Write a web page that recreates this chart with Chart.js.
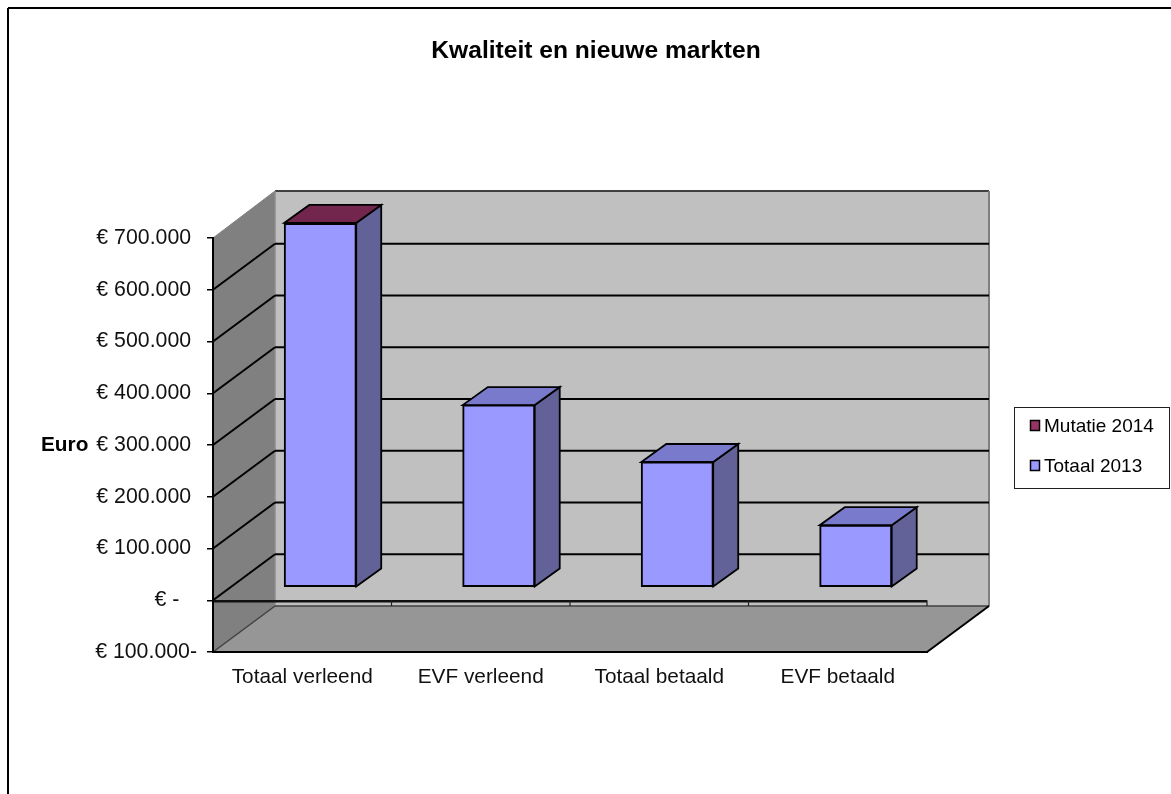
<!DOCTYPE html>
<html>
<head>
<meta charset="utf-8">
<title>Kwaliteit en nieuwe markten</title>
<script src="https://cdn.jsdelivr.net/npm/chart.js@4/dist/chart.umd.min.js"></script>
<style>
  html, body { margin: 0; padding: 0; background: #fff; overflow: hidden; }
  #wrap { width: 1171px; height: 794px; }
</style>
</head>
<body>
<div id="wrap"><canvas id="chart" width="1171" height="794"></canvas></div>
<script>
// --- data ---
const categories = ['Totaal verleend', 'EVF verleend', 'Totaal betaald', 'EVF betaald'];
const totaal2013 = [703000, 352000, 242000, 120000];
const mutatie2014 = [1000, 0, 0, 0];
const tickValues = [700000, 600000, 500000, 400000, 300000, 200000, 100000, 0, -100000];
const tickLabels = ['€ 700.000 ', '€ 600.000 ', '€ 500.000 ', '€ 400.000 ', '€ 300.000 ', '€ 200.000 ', '€ 100.000 ', '€ -   ', '€ 100.000-'];

const FONT = '"Liberation Sans", Arial, sans-serif';

// 3D look: how far the back wall and the bars sit behind the front plane
const WALL_DX = 62, WALL_DY = 46;
const BAR_SHIFT_X = 18, BAR_SHIFT_Y = 13;
const BAR_DX = 25, BAR_DY = 18;

function poly(ctx, pts, fill, stroke, width) {
    ctx.beginPath();
    pts.forEach((p, i) => i ? ctx.lineTo(p[0], p[1]) : ctx.moveTo(p[0], p[1]));
    ctx.closePath();
    if (fill) { ctx.fillStyle = fill; ctx.fill(); }
    if (stroke) { ctx.strokeStyle = stroke; ctx.lineWidth = width || 1; ctx.stroke(); }
}

function line(ctx, x1, y1, x2, y2, color, width) {
    ctx.beginPath();
    ctx.moveTo(x1, y1);
    ctx.lineTo(x2, y2);
    ctx.strokeStyle = color;
    ctx.lineWidth = width;
    ctx.stroke();
}

const box3d = {
    id: 'box3d',
    afterLayout(chart) {
        // title is centred over the whole frame, not the plot
        chart.titleBlock.left = 21;
        chart.titleBlock.right = 1171;
    },
    beforeDraw(chart) {
        const { ctx, chartArea: a, scales: { x, y } } = chart;
        ctx.save();
        ctx.fillStyle = '#fff';
        ctx.fillRect(0, 0, chart.width, chart.height);

        // outer frame, cut off by the picture on the right and bottom
        line(ctx, 8, 8, 1171, 8, '#000', 2);
        line(ctx, 8, 8, 8, 794, '#000', 2);

        const bx = a.left + WALL_DX, bxr = a.right + WALL_DX;
        const yTop = y.getPixelForValue(700000), yBot = y.getPixelForValue(-100000);

        // back wall, left wall, floor
        poly(ctx, [[bx, yTop - WALL_DY - 1], [bxr, yTop - WALL_DY - 1], [bxr, yBot - WALL_DY], [bx, yBot - WALL_DY]], '#c0c0c0');
        poly(ctx, [[a.left, yTop], [bx, yTop - WALL_DY - 1], [bx, yBot - WALL_DY], [a.left, yBot]], '#808080');
        poly(ctx, [[a.left, yBot], [a.right, yBot], [bxr, yBot - WALL_DY], [bx, yBot - WALL_DY]], '#969696');

        // wall edges
        line(ctx, a.left, yTop, bx, yTop - WALL_DY - 1, '#808080', 1);
        line(ctx, bx, yTop - WALL_DY - 1, bxr, yTop - WALL_DY - 1, '#404040', 2);
        line(ctx, bxr, yTop - WALL_DY - 1, bxr, yBot - WALL_DY, '#808080', 2);
        line(ctx, bx, yTop - WALL_DY - 1, bx, yBot - WALL_DY, '#8c8c8c', 1.5);
        line(ctx, a.left, yBot, bx, yBot - WALL_DY, '#404040', 1.5);
        line(ctx, bx, yBot - WALL_DY, bxr, yBot - WALL_DY, '#404040', 1.5);
        line(ctx, a.right, yBot, bxr, yBot - WALL_DY, '#000', 2);

        // gridlines run over the left wall and the back wall
        tickValues.forEach(v => {
            if (v >= 700000 || v < 0) return;
            const py = y.getPixelForValue(v);
            line(ctx, a.left, py, bx, py - WALL_DY, '#000', 2);
            line(ctx, bx, py - WALL_DY, bxr, py - WALL_DY, '#000', 2);
        });

        // the zero line sits on the front plane, with category ticks below it
        const zero = y.getPixelForValue(0);
        line(ctx, a.left, zero + 1, a.right, zero + 1, '#101010', 2.5);
        for (let i = 1; i <= categories.length; i++) {
            const tx = (x.getPixelForTick(i - 1) + x.width / categories.length / 2);
            line(ctx, tx, zero, tx, yBot - WALL_DY, '#202020', 1.2);
        }

        // Euro label
        ctx.fillStyle = '#000';
        ctx.font = 'bold 20.8px ' + FONT;
        ctx.textAlign = 'left';
        ctx.textBaseline = 'middle';
        ctx.fillText('Euro', 41, y.getPixelForValue(300000));

        drawLegend(chart);
        ctx.restore();
    },
    beforeDatasetsDraw(chart) {
        const { ctx } = chart;
        const bottom = chart.getDatasetMeta(0).data;
        const top = chart.getDatasetMeta(1).data;

        ctx.save();
        ctx.translate(BAR_SHIFT_X, -BAR_SHIFT_Y);
        bottom.forEach((bar, i) => {
            const hasMut = mutatie2014[i] > 0;
            const yTop = hasMut ? top[i].y : bar.y;
            const ds = chart.data.datasets[hasMut ? 1 : 0];
            const l = bar.x - bar.width / 2, r = bar.x + bar.width / 2;
            // side face, then the top face in the colour of the top segment
            poly(ctx, [[r, yTop], [r + BAR_DX, yTop - BAR_DY], [r + BAR_DX, bar.base - BAR_DY], [r, bar.base]], '#626299', '#000', 1.8);
            poly(ctx, [[l, yTop], [r, yTop], [r + BAR_DX, yTop - BAR_DY], [l + BAR_DX, yTop - BAR_DY]], ds.topColor, '#000', 1.8);
        });
        ctx.restore();

        // the library draws the front faces, one step back from the front plane
        ctx.save();
        ctx.translate(BAR_SHIFT_X, -BAR_SHIFT_Y);
    },
    afterDatasetsDraw(chart) {
        chart.ctx.restore();
    }
};

function drawLegend(chart) {
    const { ctx } = chart;
    ctx.fillStyle = '#fff';
    ctx.fillRect(1014.5, 407.5, 155, 81);
    ctx.strokeStyle = '#202020';
    ctx.lineWidth = 1;
    ctx.strokeRect(1014.5, 407.5, 155, 81);

    ctx.font = '19px ' + FONT;
    ctx.textAlign = 'left';
    ctx.textBaseline = 'middle';
    chart.data.datasets.slice().reverse().forEach((ds, i) => {
        const cy = 426 + i * 40;
        ctx.fillStyle = ds.backgroundColor;
        ctx.fillRect(1030.5, cy - 5.5, 9, 10);
        ctx.strokeStyle = '#000';
        ctx.lineWidth = 1.5;
        ctx.strokeRect(1030.5, cy - 5.5, 9, 10);
        ctx.fillStyle = '#000';
        ctx.fillText(ds.label, 1044, cy + 1);
    });
}

new Chart(document.getElementById('chart'), {
    type: 'bar',
    data: {
        labels: categories,
        datasets: [
            { label: 'Totaal 2013', data: totaal2013, backgroundColor: '#9999ff', topColor: '#7a7acc',
              borderColor: '#000', borderWidth: 2, borderSkipped: false, inflateAmount: 0.5, clip: false },
            { label: 'Mutatie 2014', data: mutatie2014, backgroundColor: '#993366', topColor: '#73264d',
              borderColor: '#000', borderWidth: 0, clip: false }
        ]
    },
    options: {
        responsive: false,
        animation: false,
        devicePixelRatio: 1,
        categoryPercentage: 1,
        barPercentage: 0.403,
        layout: { padding: { left: 0, right: 244, top: 0, bottom: 0 } },
        plugins: {
            legend: { display: false },
            tooltip: { enabled: false },
            title: {
                display: true,
                text: 'Kwaliteit en nieuwe markten',
                color: '#000',
                font: { family: FONT, size: 24.6, weight: 'bold' },
                padding: { top: 36, bottom: 172.5 }
            }
        },
        scales: {
            x: {
                stacked: true,
                grid: { display: false },
                border: { color: '#000', width: 2 },
                ticks: { color: '#111', font: { family: FONT, size: 20.8 }, padding: 5, maxRotation: 0 },
                afterFit(scale) { scale.height = 142; }
            },
            y: {
                stacked: true,
                min: -100000,
                max: 700000,
                afterBuildTicks(scale) { scale.ticks = tickValues.map(v => ({ value: v })); },
                grid: { drawOnChartArea: false, color: '#000', tickLength: 6, lineWidth: 1.5 },
                border: { color: '#000', width: 2 },
                ticks: {
                    color: '#111',
                    font: { family: FONT, size: 21.3 },
                    padding: 10,
                    callback: v => tickLabels[tickValues.indexOf(v)]
                },
                afterFit(scale) { scale.width = 213; }
            }
        }
    },
    plugins: [box3d]
});
</script>
</body>
</html>
